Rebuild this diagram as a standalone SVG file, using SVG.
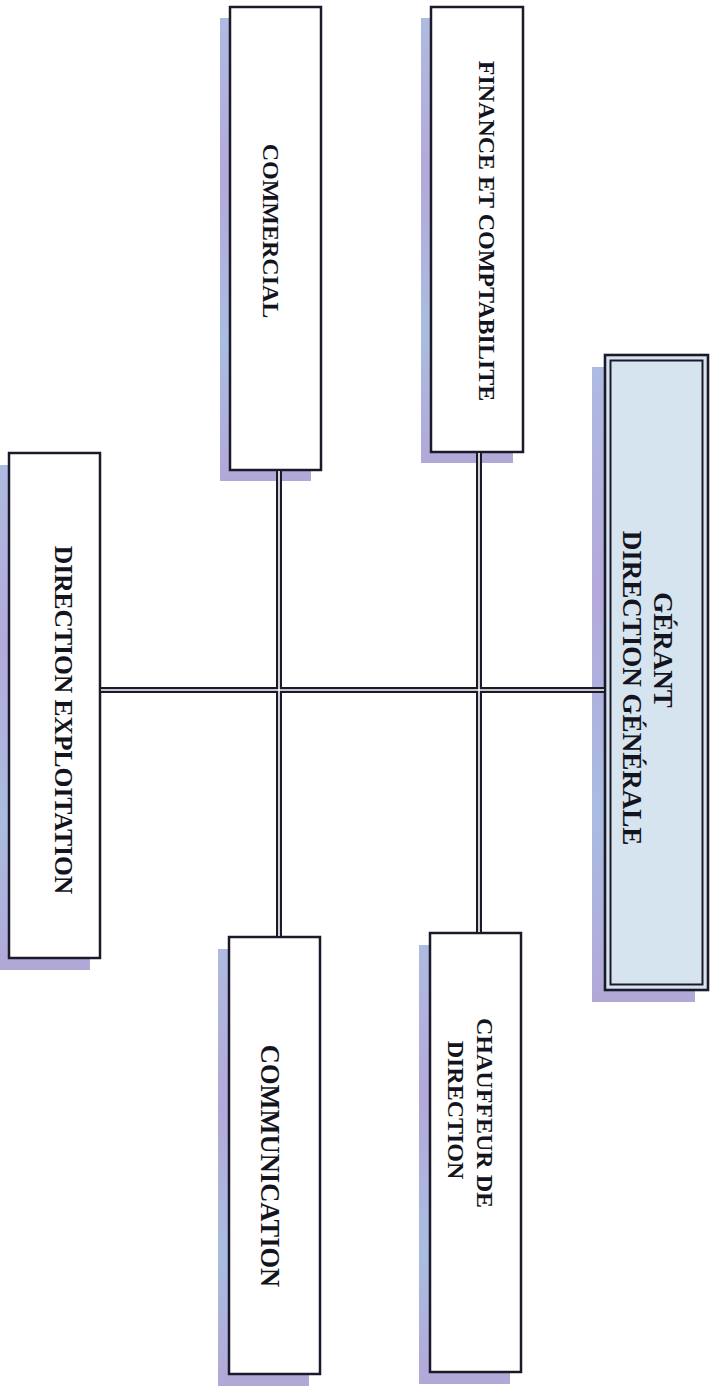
<svg xmlns="http://www.w3.org/2000/svg" width="715" height="1386" viewBox="0 0 715 1386">
<style>
.shadow{fill:url(#sh);}
.box{fill:#ffffff;stroke:#1c1a2a;stroke-width:2.5;}
.gbox{fill:#d6e4ef;stroke:#1c1a2a;stroke-width:2.6;}
.ginner{fill:none;stroke:#1c1a2a;stroke-width:2;}
.lbl{font-family:"Liberation Serif","Times New Roman",serif;font-weight:bold;font-size:24px;fill:#141420;text-anchor:middle;}
.cdark{fill:none;stroke:#1c1a2a;stroke-width:6;}
.clight{fill:none;stroke:#ffffff;stroke-width:1.6;}
</style>
<defs>
<linearGradient id="sh" x1="0" y1="0" x2="0" y2="1">
<stop offset="0" stop-color="#aebbe0"/>
<stop offset="0.35" stop-color="#b3a9da"/>
<stop offset="0.7" stop-color="#a9bde0"/>
<stop offset="1" stop-color="#b2a8d8"/>
</linearGradient>
</defs>
<rect width="715" height="1386" fill="#ffffff"/>

<g id="commercial">
<rect class="shadow" x="220" y="18" width="91" height="463"/>
<rect class="box" x="230" y="7" width="91" height="463"/>
<text class="lbl" transform="translate(271,231) rotate(90)" x="0" y="8">COMMERCIAL</text>
</g>

<g id="finance">
<rect class="shadow" x="421" y="18" width="92" height="445"/>
<rect class="box" x="431" y="7" width="92" height="445"/>
<text class="lbl" transform="translate(487,231) rotate(90)" x="0" y="8">FINANCE ET COMPTABILITE</text>
</g>

<g id="gerant">
<rect class="shadow" x="592" y="367" width="103" height="635"/>
<rect class="gbox" x="605" y="355" width="103" height="635"/>
<rect class="ginner" x="610.5" y="360.5" width="92" height="624"/>
<text class="lbl" style="font-size:27px" transform="translate(663,650) rotate(90)" x="0" y="9">GÉRANT</text>
<text class="lbl" style="font-size:27px" transform="translate(632,688) rotate(90)" x="0" y="9">DIRECTION GÉNÉRALE</text>
</g>

<g id="direction-exploitation">
<rect class="shadow" x="-1" y="465" width="91" height="505"/>
<rect class="box" x="9" y="453" width="91" height="505"/>
<text class="lbl" style="font-size:25.5px" transform="translate(63,720) rotate(90)" x="0" y="8.5">DIRECTION EXPLOITATION</text>
</g>

<g id="communication">
<rect class="shadow" x="218" y="949" width="91" height="437"/>
<rect class="box" x="229" y="937" width="91" height="437"/>
<text class="lbl" style="font-size:26.5px" transform="translate(270,1166) rotate(90)" x="0" y="9">COMMUNICATION</text>
</g>

<g id="chauffeur">
<rect class="shadow" x="419" y="945" width="91" height="439"/>
<rect class="box" x="430" y="933" width="91" height="439"/>
<text class="lbl" transform="translate(485,1113) rotate(90)" x="0" y="8">CHAUFFEUR DE</text>
<text class="lbl" transform="translate(456,1110) rotate(90)" x="0" y="8">DIRECTION</text>
</g>

<g id="connectors">
<path class="cdark" d="M100,690 H605 M279,470 V937 M479,452 V933"/>
<path class="clight" d="M101,690 H604 M279,471 V936 M479,453 V932"/>
</g>
</svg>
